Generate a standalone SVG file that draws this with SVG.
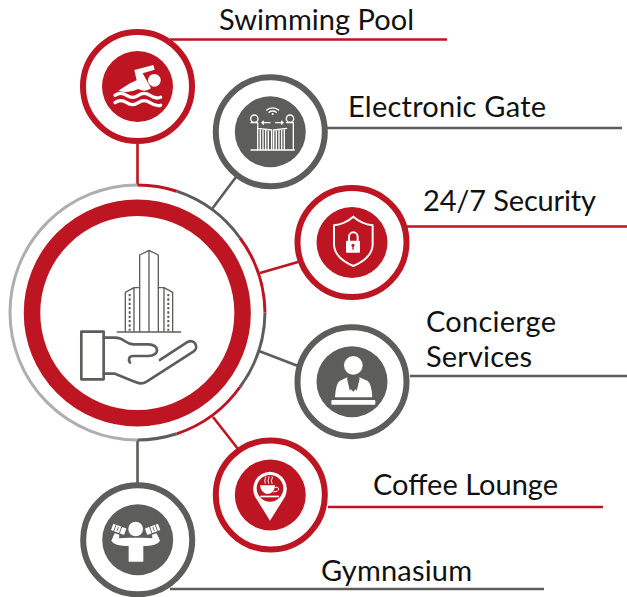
<svg xmlns="http://www.w3.org/2000/svg" width="627" height="597" viewBox="0 0 627 597">
<style>
.sat{fill:#fff;stroke-width:6}
.r{stroke:#bd1622}.g{stroke:#5d5d5b}
.rf{fill:#bd1622}.gf{fill:#5d5d5b}
.c{fill:none;stroke-width:2.6}
.seg{fill:none;stroke-width:3}
text{font-family:Lato,"Open Sans",sans-serif;font-size:29px;fill:#111}
.w{fill:#fff}.ws{fill:none;stroke:#fff;stroke-linecap:round;stroke-linejoin:round}
</style>
<rect width="627" height="597" fill="#fff"/>
<g id="connectors">
<path class="c r" d="M137.5 144V185M170 39.5H447M407 226.5H627M260 273L298 262M213 417L238 449M328 507H603"/>
<path class="c g" d="M236 177L212 209M327 128H622M259 351L298 366M410 376H627M137.5 440V483M170 589H544"/>
</g>
<g id="hub">
<path class="seg" stroke="#aeaeae" d="M137.5 440A127.500 127.500 0 0 1 137.500 185"/>
<path class="seg r" d="M137.500 185A127.500 127.500 0 0 1 176.700 191.200"/>
<path class="seg g" d="M176.700 191.200A127.500 127.500 0 0 1 240 238"/>
<path class="seg r" d="M240 238A127.500 127.500 0 0 1 265 312.500"/>
<path class="seg g" d="M265 312.500A127.500 127.500 0 0 1 240 387"/>
<path class="seg r" d="M240 387A127.500 127.500 0 0 1 176.700 433.800"/>
<path class="seg g" d="M176.700 433.800A127.500 127.500 0 0 1 137.500 440"/>
<circle cx="137.300" cy="313" r="105.300" fill="#fff" stroke="#bd1622" stroke-width="16.500"/>
<g transform="translate(0,170) scale(.3333)" fill="none" stroke="#5d5d5b" stroke-linejoin="round" stroke-linecap="round">
<g stroke-width="4">
<path d="M419 484V255L447 241L475 255V484M447 241V484"/>
<path d="M419 353L402 353L376 367V484M475 353L492 353L518 367V484M402 353V484M492 353V484"/>
<path stroke-width="6" stroke-linecap="butt" stroke-dasharray="7 6" d="M389 372V482M505 372V482"/>
</g>
<path stroke-width="4" d="M352 486H542"/>
<g stroke-width="8">
<rect x="244" y="485" width="67" height="143"/>
<path d="M311 503H345C375 503 375 523 400 523H445C480 523 480 558 445 558H400C385 558 385 570 390 578"/>
<path d="M480 570L563 516C585 505 598 535 580 545L440 635C425 644 415 640 400 634L345 611H311"/>
</g>
</g>
</g>
<g id="swimming-pool">
<circle class="sat r" cx="137.500" cy="86.500" r="54.500"/>
<circle class="rf" cx="137.500" cy="86.500" r="35.500"/>
<g transform="translate(70,20) scale(.3333)">
<circle class="w" cx="253" cy="181" r="19"/>
<path class="w" d="M193 150L250 135L254 149L218 160L243 205Q225 218 205 207Q175 222 145 212L180 190L200 181Z"/>
<path class="ws" stroke-width="10" d="M135 226Q152 214 170 226T205 226T240 226T272 232M135 248Q152 236 170 248T205 248T240 248T272 256"/>
</g>
<text x="219" y="30" textLength="195">Swimming Pool</text>
</g>
<g id="electronic-gate">
<circle class="sat g" cx="270.300" cy="131.800" r="54.500"/>
<circle class="gf" cx="270.300" cy="131.800" r="35.500"/>
<g transform="translate(215,70) scale(.3333)">
<path class="ws" stroke-width="4" d="M155 120Q173 107 191 120M162 127Q173 119 184 127"/>
<circle class="w" cx="173" cy="132" r="3"/>
<circle class="ws" cx="118" cy="146" r="11" stroke-width="4"/>
<circle class="ws" cx="225" cy="146" r="11" stroke-width="4"/>
<path class="ws" stroke-width="4" d="M108 240H238M108 158H128V240M215 158H235V240M128 175L170 180V240M215 175L176 180V240M136 180V238M144 180V238M152 180V238M160 180V238M184 180V238M192 180V238M200 180V238M208 180V238"/>
<path class="ws" stroke-width="4" d="M141 158H165M145 154L141 158L145 162M182 158H204M200 154L204 158L200 162"/>
</g>
<text x="348" y="117" textLength="198">Electronic Gate</text>
</g>
<g id="security">
<circle class="sat r" cx="352" cy="242.500" r="54.500"/>
<circle class="rf" cx="352" cy="242.500" r="35.500"/>
<g transform="translate(290,180) scale(.3333)">
<path class="ws" stroke-width="6" d="M190 110Q165 132 132 136V195Q135 235 190 258Q245 235 248 195V136Q215 132 190 110Z"/>
<path class="ws" stroke-width="6" d="M177 182V170A13 13 0 0 1 203 170V182"/>
<rect class="w" x="168" y="182" width="42" height="36" rx="3"/>
<circle class="rf" cx="189" cy="196" r="4.500"/>
<rect class="rf" x="187" y="198" width="4" height="11"/>
</g>
<text x="423" y="211" textLength="173">24/7 Security</text>
</g>
<g id="concierge">
<circle class="sat g" cx="352" cy="381.700" r="54.500"/>
<circle class="gf" cx="352" cy="381.700" r="35.500"/>
<g transform="translate(290,320) scale(.3333)">
<circle class="w" cx="190" cy="136" r="28"/>
<path class="w" d="M135 232Q137 190 150 182L172 172L180 205L190 215L200 205L208 172L232 182Q245 190 247 232Z"/>
<path class="gf" d="M170 172L186 196L180 214ZM210 172L194 196L200 214Z"/>
<rect class="w" x="124" y="240" width="132" height="14" rx="3"/>
</g>
<text x="426" y="332" textLength="130">Concierge</text>
<text x="426" y="367" textLength="106">Services</text>
</g>
<g id="coffee-lounge">
<circle class="sat r" cx="270.300" cy="495" r="54.500"/>
<circle class="rf" cx="270.300" cy="495" r="35.500"/>
<g transform="translate(205,430) scale(.3333)">
<path class="w" d="M195 125A52 52 0 0 1 240 200L195 272L150 200A52 52 0 0 1 195 125Z"/>
<circle class="rf" cx="195" cy="175" r="40"/>
<path class="w" d="M165 166H210Q209 190 188 192Q168 190 165 166Z"/>
<path class="ws" stroke-width="3" d="M210 172H218Q226 176 216 184L205 186"/>
<rect class="w" x="166" y="197" width="56" height="5"/>
<path class="ws" stroke-width="3" d="M181 160Q177 152 181 146T181 140M191 160Q187 152 191 146T191 140M201 160Q197 152 201 146T201 140"/>
</g>
<text x="373" y="495" textLength="185">Coffee Lounge</text>
</g>
<g id="gymnasium">
<circle class="sat g" cx="137.700" cy="539.800" r="54.500"/>
<circle class="gf" cx="137.700" cy="539.800" r="35.500"/>
<g transform="translate(70,470) scale(.3333)">
<circle class="w" cx="197" cy="177" r="22"/>
<path class="w" d="M124 212L134 190L148 194L147 205L176 203H218L247 205L246 194L260 190L270 212Q262 228 220 228V275H176V228Q132 228 124 212Z"/>
<g transform="rotate(20 146 178)">
<rect class="w" x="125" y="168" width="42" height="20" rx="2"/>
<path class="g" stroke-width="2.500" d="M134 168V188M143 172V184M152 168V188"/>
</g>
<g transform="rotate(-20 248 178)">
<rect class="w" x="227" y="168" width="42" height="20" rx="2"/>
<path class="g" stroke-width="2.500" d="M242 168V188M251 172V184M260 168V188"/>
</g>
</g>
<text x="321" y="581" textLength="151">Gymnasium</text>
</g>
</svg>
